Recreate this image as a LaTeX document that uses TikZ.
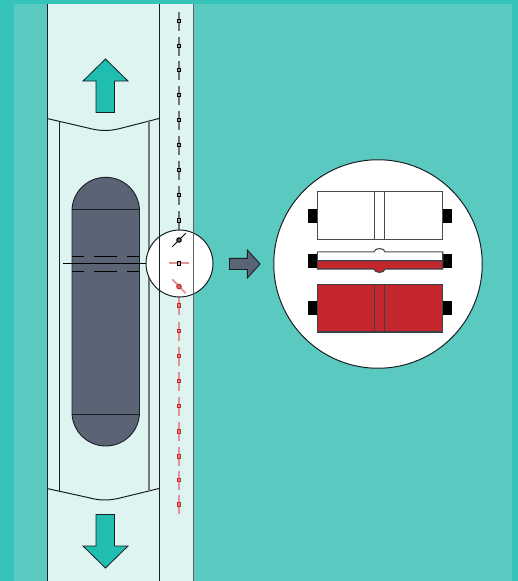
\documentclass[tikz,border=0pt]{standalone}
\usetikzlibrary{positioning}
\definecolor{seadark}{HTML}{35C4BA}
\definecolor{sealight}{HTML}{5ACAC0}
\definecolor{lanebg}{HTML}{DEF4F1}
\definecolor{arrowteal}{HTML}{20BDB0}
\definecolor{hullgrey}{HTML}{5A6475}
\definecolor{wingred}{HTML}{C4262E}
\definecolor{inkline}{HTML}{1A1F24}
\tikzset{
  laneline/.style={draw=inkline, line width=1pt},
  sideline/.style={draw=inkline!60, line width=1.3pt},
  tealarrow/.style={draw=inkline, fill=arrowteal, line width=0.8pt, line join=miter},
  hull/.style={draw=inkline, fill=hullgrey, line width=0.9pt},
  blacktick/.style={draw=black!55, line width=1.6pt},
  redtick/.style={draw=wingred!50, line width=1.8pt},
  blackdot/.style={draw=black, fill=hullgrey!60, line width=1pt, minimum size=3.6pt, inner sep=0pt},
  reddot/.style={draw=wingred, fill=wingred!55, line width=1pt, minimum size=3.6pt, inner sep=0pt},
  lens/.style={draw=inkline, fill=white, circle, line width=1pt, inner sep=0pt},
  panelwhite/.style={draw=inkline!80, fill=white, line width=1.1pt},
  panelred/.style={draw=inkline!85, fill=wingred, line width=1.1pt},
  tabblack/.style={fill=black, draw=none}}
\begin{document}
\begin{tikzpicture}[x=1pt,y=-1pt]
  \useasboundingbox (0,0) rectangle (518,581);
  % background bands
  \fill[seadark] (0,0) rectangle (518,581);
  \fill[sealight] (14,4) rectangle (512,581);
  \fill[lanebg] (47,4) rectangle (193,581);

  % end curves of the berth
  \draw[laneline] (47,118.5) -- (88,128) .. controls (100,131.3) and (110,131.3) .. (122,128) -- (159,118.5);
  \draw[laneline] (47,488.5) -- (88,497.5) .. controls (100,500.8) and (110,500.8) .. (122,497.5) -- (159,488.5);
  \draw[laneline] (59.3,122) -- (59.3,491);
  \draw[sideline] (149,121) -- (149,491);

  % direction arrows
  \draw[tealarrow] (105.5,59) -- (128,81) -- (114.5,81) -- (114.5,112.5) -- (96,112.5) -- (96,81) -- (83,81) -- cycle;
  \draw[tealarrow] (105.5,568) -- (128,546) -- (114.5,546) -- (114.5,514.5) -- (96,514.5) -- (96,546) -- (83,546) -- cycle;

  % hull
  \draw[hull, rounded corners=33.7pt] (72,177.3) rectangle (139.5,446);
  \draw[hull] (72,209) -- (139.5,209);
  \draw[hull] (72,414) -- (139.5,414);
  \foreach \ya in {256,271}{
    \draw[draw=black, line width=0.8pt] (72,\ya) -- (84,\ya) (94,\ya) -- (117,\ya) (127,\ya) -- (139,\ya);
  }

  % lane markers
  \foreach \ya in {21,46,70,95,120,145,170,195,220.5}{
    \draw[blacktick] (179,{\ya-9.5}) -- (179,{\ya+9.5});
    \node[blackdot] (k\ya) at (179,\ya) {};
  }
  \foreach \ya in {305.7,331,356,381,406,431.5,456.7,480,504.7}{
    \draw[redtick] (179,{\ya-9.5}) -- (179,{\ya+9.5});
    \node[reddot] (r\ya) at (179,\ya) {};
  }

  % small lens
  \draw[draw=black, line width=0.9pt] (63,263.3) -- (146,263.3);
  \node[lens, minimum size=67pt] (lensa) at (179.5,263.5) {};
  \draw[draw=black, line width=1pt] (172.3,246.7) -- (185.7,233.3);
  \node[blackdot, circle, minimum size=4.5pt, fill=hullgrey] (da) at (179,240) {};
  \draw[redtick] (169,263.3) -- (189,263.3);
  \node[blackdot, fill=wingred!40] (db) at (179,263.3) {};
  \draw[redtick] (172.3,279.3) -- (185.7,293.3);
  \node[reddot, circle, minimum size=4.5pt, fill=wingred!70] (dc) at (179,286.5) {};

  % lane edges stay on top
  \draw[laneline] (47.3,4) -- (47.3,581);
  \draw[laneline] (159.2,4) -- (159.2,581);
  \draw[draw=inkline!70, line width=1.3pt] (193.5,4) -- (193.5,581);

  % pointer
  \draw[hull] (229.5,258.3) -- (247.4,258.3) -- (247.4,250) -- (260,264) -- (247.4,278) -- (247.4,269.5) -- (229.5,269.5) -- cycle;

  % big lens
  \node[lens, minimum size=208.5pt] (lensb) at (378,264) {};

  \foreach \ya in {209,301}{
    \fill[tabblack] (308,\ya) rectangle (317.3,{\ya+14});
    \fill[tabblack] (442.7,\ya) rectangle (452,{\ya+14});
  }
  \fill[tabblack] (308,254) rectangle (317.3,268);
  \fill[tabblack] (442.7,254) rectangle (452,268);

  % top view, open
  \draw[panelwhite] (317.3,191.8) rectangle (442.7,239.3);
  \draw[panelwhite] (374.3,191.8) -- (374.3,239.3) (384.7,191.8) -- (384.7,239.3);

  % side view
  \draw[panelwhite] (317.3,251.8) -- (374,251.8) .. controls (374.5,247.5) and (384.5,247.5) .. (385,251.8) -- (442.7,251.8) -- (442.7,260.7) -- (317.3,260.7) -- cycle;
  \draw[panelred] (317.3,260.7) -- (442.7,260.7) -- (442.7,269) -- (385,269) .. controls (384.5,273.5) and (374.5,273.5) .. (374,269) -- (317.3,269) -- cycle;

  % top view, closed
  \draw[panelred] (317.3,284.3) rectangle (442.7,332);
  \draw[panelred] (374.3,284.3) -- (374.3,332) (384.7,284.3) -- (384.7,332);
\end{tikzpicture}
\end{document}
